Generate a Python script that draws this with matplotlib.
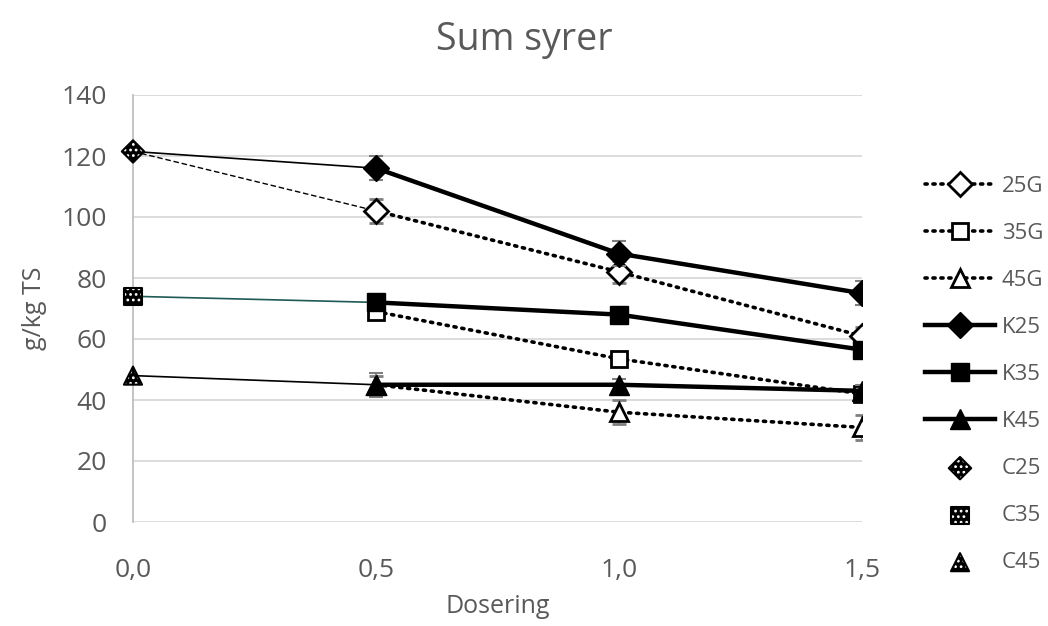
import matplotlib
matplotlib.use("Agg")
import matplotlib.pyplot as plt
from matplotlib.legend_handler import HandlerTuple

# ── Data ──────────────────────────────────────────────────────────────────────
dose = [0.5, 1.0, 1.5]
ctrl_dose = 0.0

g25 = [102.0, 82.0, 61.0]
g35 = [69.0, 53.5, 42.0]
g45 = [45.0, 36.0, 31.0]
k25 = [116.0, 88.0, 75.0]
k35 = [72.0, 68.0, 56.5]
k45 = [45.0, 45.0, 43.0]

g25_err = [4.0, 3.5, 3.0]
g35_err = [2.0, 2.0, 2.0]
g45_err = [3.0, 4.0, 4.0]
k25_err = [4.0, 4.0, 4.0]
k35_err = [2.0, 2.0, 2.0]
k45_err = [4.0, 2.0, 2.0]

c25 = 121.5
c35 = 74.0
c45 = 48.0

xticks = [0.0, 0.5, 1.0, 1.5]
xticklabels = ["0,0", "0,5", "1,0", "1,5"]
yticks = [0, 20, 40, 60, 80, 100, 120, 140]

# ── Plot ──────────────────────────────────────────────────────────────────────
plt.rcParams["font.family"] = ["Open Sans", "DejaVu Sans"]
plt.rcParams["hatch.linewidth"] = 1.2
grey = "#595959"

fig = plt.figure(figsize=(10.48, 6.26), dpi=100)
ax = fig.add_axes([133 / 1048, 1 - 522 / 626, (862 - 133) / 1048, (522 - 95) / 626])

err_kw = dict(ecolor="#7f7f7f", elinewidth=1.5, capsize=4.7, capthick=1.5)
dot = dict(linestyle=(0, (0.6, 1.6)), dash_capstyle="round", lw=2.6, color="black")
solid = dict(linestyle="-", lw=3.2, color="black")

# tynne linjer fra kontrollene til første dosering
ax.plot([ctrl_dose, dose[0]], [c25, k25[0]], color="black", lw=1.2, zorder=2)
ax.plot([ctrl_dose, dose[0]], [c25, g25[0]], color="black", lw=1.0, ls=(0, (4, 2)), zorder=2)
ax.plot([ctrl_dose, dose[0]], [c35, k35[0]], color="#1f5a55", lw=1.2, zorder=2)
ax.plot([ctrl_dose, dose[0]], [c45, k45[0]], color="black", lw=1.2, zorder=2)

handles = []
for y, e, m, lab in [(g25, g25_err, "D", "25G"), (g35, g35_err, "s", "35G"), (g45, g45_err, "^", "45G")]:
    ms = {"D": 12, "s": 12, "^": 13}[m]
    h = ax.errorbar(dose, y, yerr=e, marker=m, ms=ms, mfc="white", mec="black", mew=2,
                    zorder=4, **dot, **err_kw)
    handles.append((h.lines[0], lab))
for y, e, m, lab in [(k25, k25_err, "D", "K25"), (k35, k35_err, "s", "K35"), (k45, k45_err, "^", "K45")]:
    ms = {"D": 13, "s": 13, "^": 14}[m]
    h = ax.errorbar(dose, y, yerr=e, marker=m, ms=ms, mfc="black", mec="black",
                    zorder=5, **solid, **err_kw)
    handles.append((h.lines[0], lab))

for y, m, lab in [(c25, "D", "C25"), (c35, "s", "C35"), (c45, "^", "C45")]:
    s = {"D": 130, "s": 150, "^": 170}[m]
    a = ax.scatter([ctrl_dose], [y], marker=m, s=s, facecolor="black", edgecolor="white",
                   hatch="...", linewidths=0, zorder=6, clip_on=False)
    b = ax.scatter([ctrl_dose], [y], marker=m, s=s, facecolor="none", edgecolor="black",
                   linewidths=1.5, zorder=7, clip_on=False)
    handles.append(((a, b), lab))

ax.set_xlim(0, 1.5)
ax.set_ylim(0, 140)
ax.set_xticks(xticks)
ax.set_xticklabels(xticklabels)
ax.set_yticks(yticks)
ax.tick_params(axis="both", length=0, labelsize=19, colors=grey)
ax.tick_params(axis="y", pad=19)
ax.tick_params(axis="x", pad=26)
ax.grid(axis="y", color="#d9d9d9", lw=1.3)
ax.set_axisbelow(True)
for s in ["top", "right", "bottom"]:
    ax.spines[s].set_visible(False)
ax.spines["left"].set_color("#bfbfbf")
ax.spines["left"].set_linewidth(1.3)

ax.set_xlabel("Dosering", fontsize=18, color=grey, labelpad=8)
ax.set_ylabel("g/kg TS", fontsize=18, color=grey, labelpad=10)
fig.suptitle("Sum syrer", fontsize=27, color=grey, y=0.966)

leg = fig.legend([h for h, _ in handles], [l for _, l in handles],
                 loc="upper left", bbox_to_anchor=(925 / 1048, 1 - 176 / 626),
                 borderaxespad=0, borderpad=0,
                 frameon=False, fontsize=16, labelspacing=1.17, handlelength=3.15,
                 handletextpad=0.3, handler_map={tuple: HandlerTuple(ndivide=1)})
for t in leg.get_texts():
    t.set_color(grey)

fig.savefig("out.png", dpi=100)
